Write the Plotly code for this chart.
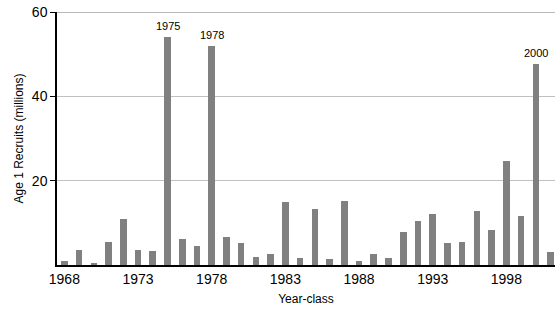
import plotly.graph_objects as go

years = list(range(1968, 2002))
recruits = [0.95, 3.6, 0.5, 5.5, 11.0, 3.6, 3.3, 54.1, 6.1, 4.4, 52.0, 6.7, 5.2, 1.8, 2.7,
            14.9, 1.6, 13.4, 1.4, 15.1, 0.95, 2.5, 1.75, 7.8, 10.5, 12.0, 5.2, 5.5, 12.9,
            8.4, 24.7, 11.6, 47.6, 3.1]
labeled_years = [1975, 1978, 2000]
tick_years = [1968, 1973, 1978, 1983, 1988, 1993, 1998]
y_ticks = [20, 40, 60]

fig = go.Figure()
fig.add_trace(go.Bar(x=years, y=recruits, width=0.45,
                     marker=dict(color="#808080", line=dict(width=0)),
                     showlegend=False))

for yr in labeled_years:
    v = recruits[years.index(yr)]
    fig.add_annotation(x=yr, y=v, text=str(yr), showarrow=False, yshift=11,
                       font=dict(size=11, color="#000000", family="Liberation Sans, Arial"))

fig.update_layout(
    width=555, height=309,
    margin=dict(l=57, r=0, t=12, b=44),
    paper_bgcolor="white", plot_bgcolor="white",
    font=dict(family="Liberation Sans, Arial", size=14, color="#000000"),
    bargap=0,
    xaxis=dict(range=[1967.5, 2001.3], tickvals=tick_years, ticktext=[str(t) for t in tick_years],
               showgrid=False, showline=True, linecolor="black", linewidth=1.5,
               ticks="", zeroline=False, automargin=False,
               title=dict(text="Year-class", standoff=9, font=dict(size=12))),
    yaxis=dict(range=[0, 60], tickvals=y_ticks, ticktext=[str(t) for t in y_ticks],
               showgrid=True, gridcolor="#c0c0c0", gridwidth=1,
               showline=True, linecolor="black", linewidth=1.5,
               ticks="outside", ticklen=5, tickcolor="black",
               zeroline=False, automargin=False,
               title=dict(text="Age 1 Recruits (millions)", standoff=6, font=dict(size=12))),
)
fig.add_shape(type="line", xref="paper", yref="y", x0=0, x1=1, y0=60, y1=60,
              line=dict(color="#a0a0a0", width=1.5))

fig.write_html("out.html", config={"displayModeBar": False},
               post_script="document.body.style.margin='0px';document.body.style.overflow='hidden';")
